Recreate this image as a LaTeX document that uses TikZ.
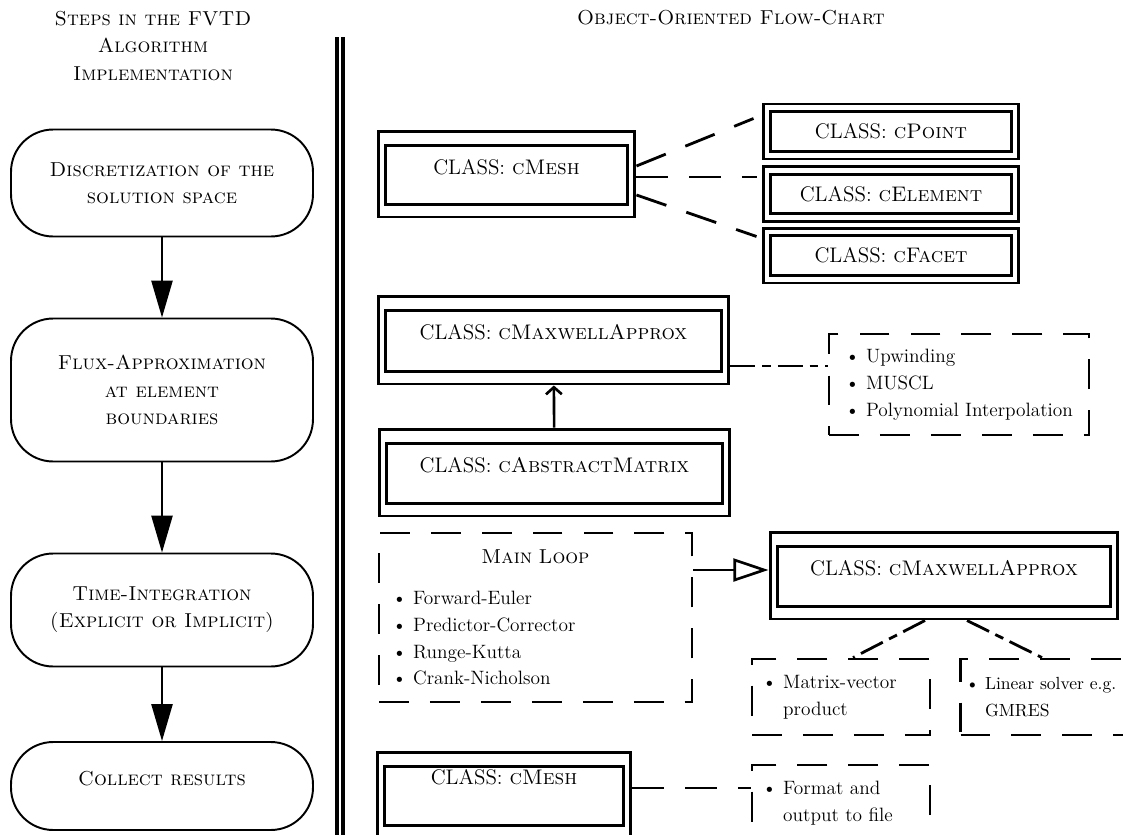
\documentclass[tikz,border=0pt]{standalone}
\usepackage{tikz}
\usetikzlibrary{arrows.meta, positioning, calc}
\newcommand{\innerframe}[3]{%
  \draw[line width=1.7pt] ([xshift=#1,yshift=-#2]path picture bounding box.north west)
    rectangle ([xshift=-#1,yshift=#3]path picture bounding box.south east);}
\newcommand{\classfont}{\fontsize{12}{14}\selectfont}
\newcommand{\listfont}{\fontsize{11}{15.3}\selectfont}

\begin{document}
\begin{tikzpicture}[x=0.02cm, y=-0.02cm, every node/.style={font=\fontsize{11.5}{15.5}\selectfont},
    stepnode/.style={draw, line width=1.1pt, rounded corners=24pt, minimum width=6.04cm, align=center},
    classbox/.style={draw, line width=1.7pt, minimum width=5.14cm, minimum height=1.72cm, text depth=8pt, font=\classfont, path picture={\innerframe{4pt}{8.5pt}{7pt}}},
    subclass/.style={draw, line width=1.7pt, minimum width=5.12cm, minimum height=1.1cm, font=\classfont, path picture={\innerframe{4pt}{4.5pt}{4.5pt}}},
    listbox/.style={draw, line width=1.6pt, dash pattern=on 17pt off 12pt, align=left, font=\listfont},
    dashlink/.style={line width=1.6pt, dash pattern=on 18pt off 12pt},
    dotlink/.style={line width=1.6pt, dash pattern=on 14pt off 4pt on 5pt off 4pt},
    steparrow/.style={line width=1.2pt, -{Triangle[length=21pt,width=12pt]}}]
    \useasboundingbox (0,0) rectangle (1123,835);
    % Headings
    \node[align=center] (stepsHead) at (153,46) {\textsc{Steps in the FVTD}\\\textsc{Algorithm}\\\textsc{Implementation}};
    \node (chartHead) at (731,18) {\textsc{Object-Oriented Flow-Chart}};
    % Divider
    \draw[line width=2pt, double distance=1.4pt] (340,37) -- (340,840);
    % Left column: algorithm steps
    \node[stepnode, minimum height=2.14cm] (disc) at (162,183) {\textsc{Discretization of the}\\\textsc{solution space}};
    \node[stepnode, minimum height=2.86cm] (flux) at (162,390) {\textsc{Flux-Approximation}\\\textsc{at element}\\\textsc{boundaries}};
    \node[stepnode, minimum height=2.26cm] (timeint) at (162,610) {\textsc{Time-Integration}\\\textsc{(Explicit or Implicit)}};
    \node[stepnode, minimum height=1.76cm, text depth=9pt] (collect) at (162,786) {\textsc{Collect results}};
    \draw[steparrow] (disc) -- (flux);
    \draw[steparrow] (flux) -- (timeint);
    \draw[steparrow] (timeint) -- (collect);
    % Right column: mesh classes
    \node[classbox] (mesh) at (506.5,174) {CLASS: \textsc{cMesh}};
    \node[subclass] (point) at (891,131.5) {CLASS: \textsc{cPoint}};
    \node[subclass] (element) at (891,194) {CLASS: \textsc{cElement}};
    \node[subclass] (facet) at (891,255.5) {CLASS: \textsc{cFacet}};
    \draw[dashlink] ($(mesh.east)+(0,-8)$) -- ($(point.west)+(-8,-13)$);
    \draw[dashlink] ($(mesh.east)+(0,3)$) -- ($(element.west)+(-5,-17)$);
    \draw[dashlink] ($(mesh.east)+(0,21)$) -- ($(facet.west)+(-5,-19)$);
    % Flux classes
    \node[classbox, minimum width=7.02cm, minimum height=1.76cm, text depth=9pt] (maxwell) at (553.5,340) {CLASS: \textsc{cMaxwellApprox}};
    \node[classbox, minimum width=7.02cm, minimum height=1.74cm, text depth=8.5pt] (abstract) at (554.5,472.5) {CLASS: \textsc{cAbstractMatrix}};
    \draw[line width=1.5pt, -{Straight Barb[length=4pt,width=9pt]}] (abstract) -- (maxwell);
    \node[listbox, minimum width=5.2cm, minimum height=2.02cm] (schemes) at (959,384.5) {\textbullet\ Upwinding\\\textbullet\ MUSCL\\\textbullet\ Polynomial Interpolation};
    \draw[dotlink] ($(maxwell.east)+(0,26)$) -- ($(schemes.west)+(0,-18.5)$);
    % Time integration
    \node[listbox, text width=5.74cm, inner xsep=0.26cm, minimum height=3.38cm] (mainloop) at (535.5,617.5) {\makebox[5.74cm]{\fontsize{11.5}{15.5}\selectfont\textsc{Main Loop}}\\[8pt]\textbullet\ Forward-Euler\\\textbullet\ Predictor-Corrector\\\textbullet\ Runge-Kutta\\\textbullet\ Crank-Nicholson};
    \node[classbox, minimum width=6.96cm, minimum height=1.74cm, text depth=9pt] (maxwellB) at (944,575.5) {CLASS: \textsc{cMaxwellApprox}};
    \draw[line width=1.5pt, -{Triangle[open,length=20pt,width=13pt]}] ($(mainloop.east)+(0,-47.5)$) -- ($(maxwellB.west)+(0,-5.5)$);
    \node[listbox, text width=3.16cm, inner xsep=0.2cm, minimum height=1.52cm] (matvec) at (841,697) {\textbullet\ Matrix-vector\\\phantom{\textbullet\ }product};
    \node[listbox, text width=3.7cm, inner xsep=0.1cm, minimum height=1.52cm, font=\fontsize{10}{15.3}\selectfont] (solver) at (1058,697) {\textbullet\ Linear solver e.g.\\\phantom{\textbullet\ }GMRES};
    \draw[dotlink] ($(maxwellB.south)+(-19,0)$) -- ($(matvec.north)+(12,0)$);
    \draw[dotlink] ($(maxwellB.south)+(23,0)$) -- ($(solver.north)+(-16,0)$);
    % Output
    \node[classbox, minimum width=5.08cm, text depth=20pt] (meshB) at (504,795) {CLASS: \textsc{cMesh}};
    \node[listbox, text width=3.16cm, inner xsep=0.2cm, minimum height=1.52cm] (output) at (841,803) {\textbullet\ Format and\\\phantom{\textbullet\ }output to file};
    \draw[dashlink] ($(meshB.east)+(0,-7)$) -- ($(output.west)+(0,-15)$);
\end{tikzpicture}
\end{document}
